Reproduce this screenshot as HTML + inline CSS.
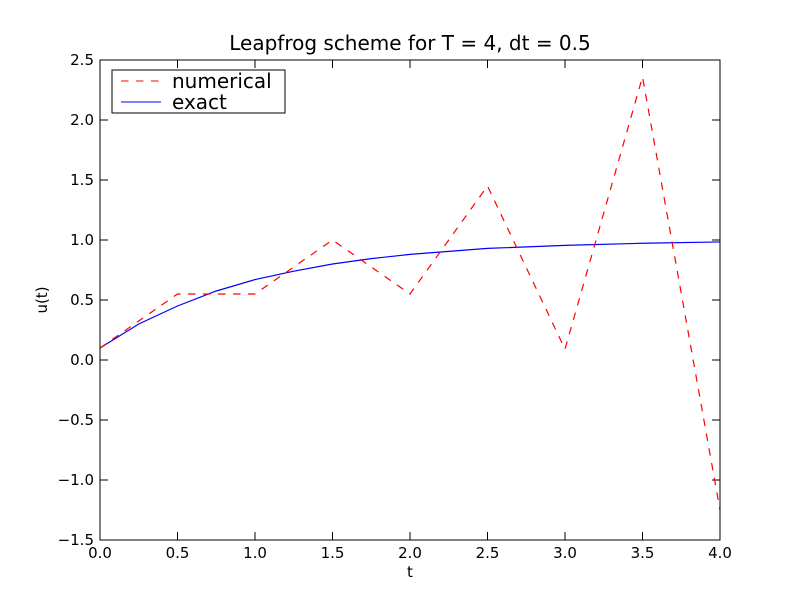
<!DOCTYPE html>
<html><head><meta charset="utf-8"><style>
body{margin:0;background:#fff;}
svg{display:block;font-family:"DejaVu Sans","Liberation Sans",sans-serif;}
</style></head><body>
<svg id="chart" width="800" height="600" viewBox="0 0 800 600">
<rect width="800" height="600" fill="#fff"/>
<text x="410" y="50" font-size="20" text-anchor="middle">Leapfrog scheme for T = 4, dt = 0.5</text>
<text x="410" y="577" font-size="15" text-anchor="middle">t</text>
<text x="47" y="300" font-size="15" text-anchor="middle" transform="rotate(-90 47 300)">u(t)</text>
<g id="ticks"></g>
<g id="series"></g>
<rect x="100" y="60" width="620" height="480" fill="none" stroke="#000"/>
<g>
<rect x="112" y="70" width="173" height="43" fill="#fff" stroke="#000"/>
<line x1="121" y1="81" x2="161" y2="81" stroke="red" stroke-dasharray="7.5,7.5"/>
<text x="172" y="88" font-size="20">numerical</text>
<line x1="121" y1="102" x2="161" y2="102" stroke="blue"/>
<text x="172" y="109" font-size="20">exact</text>
</g>
</svg>
<script>
const numT=[0,0.5,1,1.5,2,2.5,3,3.5,4];
const numU=[0.1,0.55,0.55,1.0,0.55,1.45,0.09,2.36,-1.25];
const exactT=[0,0.25,0.5,0.75,1,1.25,1.5,1.75,2,2.5,3,3.5,4];
const exactU=[0.1,0.30,0.45,0.575,0.67,0.74,0.80,0.845,0.88,0.93,0.955,0.973,0.984];
const xTicks=[0,0.5,1,1.5,2,2.5,3,3.5,4];
const yTicks=[-1.5,-1,-0.5,0,0.5,1,1.5,2,2.5];
const X=v=>100+v/4*620, Y=v=>540-(v+1.5)/4*480;
const NS="http://www.w3.org/2000/svg";
const tg=document.getElementById('ticks'), sg=document.getElementById('series');
function mk(tag,a,p){const e=document.createElementNS(NS,tag);for(const k in a)e.setAttribute(k,a[k]);p.appendChild(e);return e;}
xTicks.forEach(v=>{const x=X(v);
 let l=mk('path',{d:`M${x},540V532M${x},60V68`,stroke:'#000'},tg);
 
 
 let t=mk('text',{x:x,y:558,'font-size':15,'text-anchor':'middle'},tg);t.textContent=v.toFixed(1);
 
 });
yTicks.forEach(v=>{const y=Y(v);
 let l=mk('path',{d:`M100,${y}H108M720,${y}H712`,stroke:'#000'},tg);
 
 
 let t=mk('text',{x:94,y:y+5,'font-size':15,'text-anchor':'end'},tg);t.textContent=(v<0?'\u2212':'')+Math.abs(v).toFixed(1);
 
 });
let e=mk('polyline',{points:exactT.map((t,i)=>X(t)+','+Y(exactU[i])).join(' '),fill:'none',stroke:'blue','stroke-width':1.2},sg);


let n=mk('polyline',{points:numT.map((t,i)=>X(t)+','+Y(numU[i])).join(' '),fill:'none',stroke:'red','stroke-width':1.2,'stroke-dasharray':'7.5,7.5'},sg);


</script>
</body></html>
